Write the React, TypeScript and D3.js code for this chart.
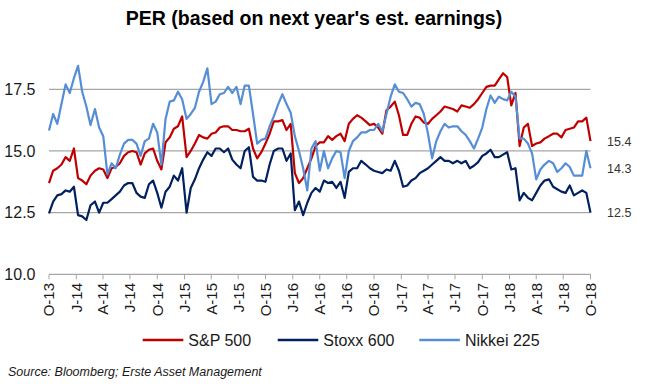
import React from "react";
import * as d3 from "d3";

// Biweekly readings, Oct 2013 – Oct 2018
const sp500 = [
  13.7, 14.2, 14.3, 14.45, 14.75, 14.6, 15.1, 13.9, 13.8, 13.65,
  14.0, 14.2, 14.3, 14.25, 13.9, 14.3, 14.35, 14.5, 14.8, 14.95,
  15.0, 14.95, 14.45, 14.9, 15.05, 15.1, 14.6, 14.25, 15.35, 15.55,
  15.9, 16.0, 16.4, 14.75, 15.0, 15.3, 15.65, 15.55, 15.5, 15.7,
  15.75, 15.95, 16.0, 16.0, 15.85, 15.85, 15.8, 15.8, 15.9, 15.1,
  14.7, 14.95, 15.3, 15.7, 16.2, 16.2, 16.25, 15.85, 16.1, 14.1,
  13.7, 13.9, 14.3, 14.7, 15.2, 15.35, 15.35, 15.6, 15.45, 15.6,
  15.7, 15.4, 16.1, 16.3, 16.45, 16.35, 16.2, 16.05, 16.1, 15.95,
  15.7, 16.65, 16.8, 17.0, 16.45, 15.65, 15.65, 16.1, 16.4, 16.35,
  16.15, 16.1, 16.3, 16.45, 16.6, 16.8, 16.75, 16.7, 16.6, 16.85,
  16.8, 16.75, 16.9, 17.1, 17.35, 17.6, 17.65, 17.65, 17.9, 18.15,
  18.0, 16.85, 17.35, 15.2, 15.95, 16.1, 15.2, 15.3, 15.35, 15.5,
  15.6, 15.7, 15.7, 15.55, 15.85, 15.9, 15.95, 16.2, 16.2, 16.35,
  15.4,
];

const stoxx600 = [
  12.47, 12.95, 13.2, 13.25, 13.4, 13.35, 13.55, 12.4, 12.35, 12.2,
  12.8, 12.95, 12.5, 12.9, 12.9, 13.05, 13.2, 13.35, 13.6, 13.7,
  13.7, 13.3, 13.15, 13.1, 13.65, 13.8, 13.3, 12.7, 13.35, 13.55,
  14.0, 13.8, 14.3, 12.5, 13.5, 13.85, 14.3, 14.65, 14.95, 14.8,
  15.1, 15.1, 14.95, 15.1, 14.65, 14.45, 14.3, 15.0, 15.15, 13.95,
  13.8, 13.8, 13.75, 14.45, 15.0, 15.1, 15.1, 14.6, 14.9, 12.6,
  12.95, 12.4, 12.9, 13.3, 13.5, 13.35, 13.8, 13.7, 13.75, 13.5,
  13.75, 13.1, 14.15, 14.3, 14.3, 14.6, 14.45, 14.3, 14.2, 14.15,
  14.1, 14.25, 14.2, 14.6, 14.2, 13.55, 13.6, 13.8, 13.9, 14.1,
  14.2, 14.3, 14.45, 14.6, 14.75, 14.6, 14.6, 14.5, 14.6, 14.5,
  14.6, 14.3, 14.4, 14.55, 14.8, 14.9, 15.05, 14.75, 14.75, 14.85,
  14.95, 14.25, 14.3, 13.0, 13.3, 13.1, 13.0, 13.3, 13.6, 13.8,
  13.85, 13.55, 13.45, 13.35, 13.3, 13.6, 13.2, 13.3, 13.4, 13.3,
  12.5,
];

const nikkei225 = [
  15.83, 16.5, 16.1, 16.9, 17.7, 17.35, 17.95, 18.45, 17.4, 16.8,
  16.05, 16.7, 15.95, 15.6, 14.05, 14.5, 14.3, 14.85, 15.3, 15.45,
  15.45, 15.3, 14.8, 15.4, 15.5, 16.1, 15.75, 14.45, 16.3, 17.0,
  17.05, 17.4, 17.1, 16.3, 16.5, 16.75, 17.4, 17.8, 18.35, 16.9,
  17.0, 17.3, 17.35, 17.6, 17.35, 17.6, 16.9, 17.65, 17.65, 16.5,
  15.3, 15.45, 15.5, 16.0, 16.4, 16.9, 17.3, 16.9, 16.55, 15.6,
  15.0, 14.3, 13.4, 15.1, 15.4, 14.2, 15.0, 14.3, 14.7, 15.0,
  14.95, 13.9, 15.0, 15.4, 15.55, 15.75, 15.75, 15.85, 15.85, 16.1,
  15.8, 16.5, 17.2, 17.7, 17.4, 17.35, 17.1, 16.8, 16.95, 16.9,
  16.5, 15.7, 14.7, 15.4, 15.8, 16.1, 15.95, 16.0, 16.0, 15.8,
  15.65, 15.4, 15.1, 15.5, 15.95, 16.7, 17.25, 16.95, 17.2, 17.1,
  17.05, 17.4, 17.2, 15.5, 15.5, 15.3, 14.9, 13.85, 14.25, 14.45,
  14.6, 14.5, 14.15, 14.3, 14.5, 14.35, 14.0, 14.0, 14.0, 15.0,
  14.3,
];

const seriesNames = ["S&P 500", "Stoxx 600", "Nikkei 225"];
const seriesColors = ["#C00000", "#002060", "#558ED5"];
const yTickValues = [10, 12.5, 15, 17.5];
const monthLetters = ["J", "F", "M", "A", "M", "J", "J", "A", "S", "O", "N", "D"];

const startDate = new Date(2013, 9, 1);
const endDate = new Date(2018, 9, 1);
const totalDays = d3.timeDay.count(startDate, endDate);
const n = sp500.length;
const dates = d3.range(n).map((i) =>
  d3.timeDay.offset(startDate, Math.round((i * totalDays) / (n - 1)))
);
const quarterTicks = d3.timeMonth.every(3)!.range(startDate, d3.timeDay.offset(endDate, 1));

const W = 650;
const H = 384;
const left = 49;
const right = 590.5;
const x = d3.scaleTime().domain([startDate, endDate]).range([left, right]);
const y = d3.scaleLinear().domain([10, 17.5]).range([274.3, 89.3]);

const FONT = "'Liberation Sans', Arial, Helvetica, sans-serif";

export default function App() {
  const series = [sp500, stoxx600, nikkei225];
  const line = d3
    .line<number>()
    .x((_, i) => x(dates[i]))
    .y((v) => y(v));
  const drawOrder = [0, 1, 2];
  const legendX = [142.7, 277.7, 419.3];
  return (
    <svg
      width={W}
      height={H}
      viewBox={`0 0 ${W} ${H}`}
      style={{ position: "absolute", left: 0, top: 0, background: "#fff", fontFamily: FONT }}
    >
      <rect x={0} y={0} width={W} height={H} fill="#fff" />
      <text x={314} y={25} textAnchor="middle" fontWeight="bold" fontSize={19.5} fill="#000">
        PER (based on next year's est. earnings)
      </text>

      {yTickValues.map((v) => (
        <g key={v}>
          <line x1={left} x2={right} y1={y(v)} y2={y(v)} stroke="#A6A6A6" strokeWidth={1.2} />
          <text x={35.5} y={y(v)} dy="0.36em" textAnchor="end" fontSize={16} fill="#1a1a1a">
            {v.toFixed(1)}
          </text>
        </g>
      ))}

      {quarterTicks.map((d) => (
        <g key={+d}>
          <line x1={x(d)} x2={x(d)} y1={y(10)} y2={y(10) + 5} stroke="#A6A6A6" strokeWidth={1} />
          <text
            transform={`translate(${x(d)},${283}) rotate(-90)`}
            textAnchor="end"
            dy="0.36em"
            fontSize={15}
            fill="#1a1a1a"
          >
            {`${monthLetters[d.getMonth()]}-${String(d.getFullYear() % 100).padStart(2, "0")}`}
          </text>
        </g>
      ))}

      {drawOrder.map((k) => (
        <path
          key={k}
          d={line(series[k]) || ""}
          fill="none"
          stroke={seriesColors[k]}
          strokeWidth={2.2}
          strokeLinejoin="round"
        />
      ))}

      {series.map((s, k) => (
        <text key={k} x={607} y={y(s[s.length - 1])} dy="0.36em" fontSize={12.5} fill="#333">
          {s[s.length - 1].toFixed(1)}
        </text>
      ))}

      {seriesNames.map((name, k) => (
        <g key={name}>
          <line
            x1={legendX[k]}
            x2={legendX[k] + 40.6}
            y1={340}
            y2={340}
            stroke={seriesColors[k]}
            strokeWidth={2.5}
          />
          <text x={legendX[k] + 45.6} y={345.5} fontSize={16} fill="#1a1a1a">
            {name}
          </text>
        </g>
      ))}

      <text x={8} y={376} fontSize={12.5} fontStyle="italic" fill="#1a1a1a">
        Source: Bloomberg; Erste Asset Management
      </text>
    </svg>
  );
}
